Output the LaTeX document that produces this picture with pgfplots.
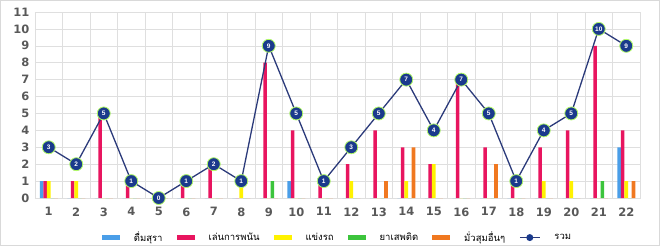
\documentclass[border=0pt]{standalone}
\usepackage{pgfplots}
\pgfplotsset{compat=1.18}
\usepackage{fontspec}
\setmainfont{Liberation Sans}
\newfontfamily\tickfont{DejaVu Sans}
\newfontfamily\thaifont[Script=Thai]{Loma}
\definecolor{cblue}{HTML}{4A9EE8}
\definecolor{cpink}{HTML}{E8155F}
\definecolor{cyellow}{HTML}{FFF200}
\definecolor{cgreen}{HTML}{3CC43C}
\definecolor{corange}{HTML}{F07820}
\definecolor{cnavy}{HTML}{2B3A7A}
\definecolor{cmark}{HTML}{1A3A8C}
\definecolor{ctick}{HTML}{595959}
\pgfplotstableread{
x a b c d e t
1 1 1 1 0 0 3
2 0 1 1 0 0 2
3 0 5 0 0 0 5
4 0 1 0 0 0 1
5 0 0 0 0 0 0
6 0 1 0 0 0 1
7 0 2 0 0 0 2
8 0 0 1 0 0 1
9 0 8 0 1 0 9
10 1 4 0 0 0 5
11 0 1 0 0 0 1
12 0 2 1 0 0 3
13 0 4 0 0 1 5
14 0 3 1 0 3 7
15 0 2 2 0 0 4
16 0 7 0 0 0 7
17 0 3 0 0 2 5
18 0 1 0 0 0 1
19 0 3 1 0 0 4
20 0 4 1 0 0 5
21 0 9 0 1 0 10
22 3 4 1 0 1 9
}\data
\begin{document}
\begin{tikzpicture}
\begin{axis}[
  scale only axis, width=605pt, height=186pt,
  xmin=0.5, xmax=22.5, ymin=0, ymax=11,
  xtick={1,...,22}, ytick={0,...,11},
  minor xtick={1.5,2.5,...,21.5},
  xmajorgrids=false, xminorgrids=true, ymajorgrids=true,
  grid style={draw=gray!25, line width=0.6pt},
  minor grid style={draw=gray!25, line width=0.6pt},
  axis line style={draw=gray!25},
  major tick length=0pt, minor tick length=0pt,
  tick label style={font=\tickfont\fontsize{11.5}{12}\selectfont\bfseries, text=ctick},
  /pgf/number format/assume math mode=true,
  xticklabel style={yshift=-6pt},
  yticklabel style={xshift=-2pt},
  ybar=0pt, bar width=3.6pt,
  legend style={at={(0.5,-0.16)}, anchor=north, draw=none, legend columns=-1,
    font=\thaifont\fontsize{9.5}{9.5}\selectfont, column sep=12pt, fill=none},
  clip=false,
]
\addplot[fill=cblue, draw=none, legend image code/.code={\fill[cblue] (0pt,-2.5pt) rectangle (18pt,2.5pt);}] table[x=x,y=a]{\data};
\addlegendentry{ดื่มสุรา}
\addplot[fill=cpink, draw=none, legend image code/.code={\fill[cpink] (0pt,-2.5pt) rectangle (18pt,2.5pt);}] table[x=x,y=b]{\data};
\addlegendentry{เล่นการพนัน}
\addplot[fill=cyellow, draw=none, legend image code/.code={\fill[cyellow] (0pt,-2.5pt) rectangle (18pt,2.5pt);}] table[x=x,y=c]{\data};
\addlegendentry{แข่งรถ}
\addplot[fill=cgreen, draw=none, legend image code/.code={\fill[cgreen] (0pt,-2.5pt) rectangle (18pt,2.5pt);}] table[x=x,y=d]{\data};
\addlegendentry{ยาเสพติด}
\addplot[fill=corange, draw=none, legend image code/.code={\fill[corange] (0pt,-2.5pt) rectangle (18pt,2.5pt);}] table[x=x,y=e]{\data};
\addlegendentry{มั่วสุมอื่นๆ}
\addplot[sharp plot, cnavy, line width=1.3pt, mark=*, mark size=6.5pt,
  mark options={fill=cmark, draw=cyellow!50!green!60, line width=0.8pt},
  nodes near coords, point meta=explicit symbolic,
  every node near coord/.append style={anchor=center, yshift=0pt, text=white, font=\fontsize{6.5}{6.5}\selectfont\bfseries},
  legend image code/.code={\draw[cnavy, line width=1.3pt] (0pt,0pt) -- (20pt,0pt); \fill[cmark] (10pt,0pt) circle (2.8pt);}
  ] table[x=x,y=t,meta=t]{\data};
\addlegendentry{รวม}
\end{axis}
\pgfresetboundingbox
\path[use as bounding box] ([xshift=-35pt,yshift=-48pt]current axis.south west) rectangle ([xshift=20pt,yshift=12pt]current axis.north east);
\draw[gray!30, line width=0.6pt] ([xshift=-34.5pt,yshift=-47.5pt]current axis.south west) rectangle ([xshift=19.5pt,yshift=11.5pt]current axis.north east);
\end{tikzpicture}
\end{document}
